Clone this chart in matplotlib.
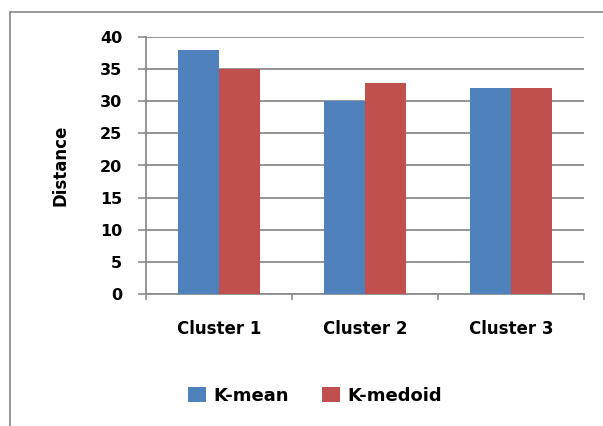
import matplotlib
matplotlib.use("Agg")
import matplotlib.pyplot as plt
import numpy as np
from matplotlib.lines import Line2D
from matplotlib.patches import Patch

categories = ["Cluster 1", "Cluster 2", "Cluster 3"]
kmean = [38, 30, 32]
kmedoid = [35, 32.8, 32]
series_names = ["K-mean", "K-medoid"]
yticks = [0, 5, 10, 15, 20, 25, 30, 35, 40]

blue = "#4F81BD"
red = "#C0504D"
grid_c = "#8C8C8C"

plt.rcParams['font.family'] = ['DejaVu Sans']
plt.rcParams['font.weight'] = 'bold'

fig = plt.figure(figsize=(6.03, 4.26), dpi=100)
ax = fig.add_axes([146/603, 1-294/426, 438/603, 257/426])

x = np.arange(len(categories))
w = 0.28
ax.bar(x - w/2, kmean, width=w, color=blue, zorder=3, label=series_names[0])
ax.bar(x + w/2, kmedoid, width=w, color=red, zorder=3, label=series_names[1])

ax.set_xlim(-0.5, 2.5)
ax.set_ylim(0, 40)
ax.set_yticks(yticks)
ax.set_yticklabels([str(v) for v in yticks], fontsize=11.5, fontweight='bold')
ax.yaxis.grid(True, color=grid_c, linewidth=1.3, zorder=0)
ax.set_axisbelow(True)

ax.set_xticks(x)
ax.set_xticklabels(categories, fontsize=12, fontweight='bold')
ax.tick_params(axis='x', which='major', length=0, pad=19)
ax.set_xticks([-0.5, 0.5, 1.5, 2.5], minor=True)
ax.tick_params(axis='x', which='minor', length=4, width=1.2, color=grid_c, direction='out')
ax.tick_params(axis='y', length=6, width=1.2, color=grid_c, direction='out', pad=11)

for s in ['top', 'right']:
    ax.spines[s].set_visible(False)
for s in ['left', 'bottom']:
    ax.spines[s].set_color(grid_c)
    ax.spines[s].set_linewidth(1.3)

ax.set_ylabel("Distance", fontsize=12, fontweight='bold')
ax.yaxis.set_label_coords(-0.175, 0.5)

handles = [Patch(facecolor=blue, label=series_names[0]),
           Patch(facecolor=red, label=series_names[1])]
fig.legend(handles=handles, loc='center', bbox_to_anchor=(315/603, 1-396/426),
           ncol=2, frameon=False, handlelength=1.0, handleheight=0.9,
           handletextpad=0.4, columnspacing=1.8, prop={'size': 13, 'weight': 'bold'})

# outer chart frame (left and top edges visible)
fig.add_artist(Line2D([9.5/603, 9.5/603], [0, 1-12/426], transform=fig.transFigure,
                      color="#888888", linewidth=1.2))
fig.add_artist(Line2D([9.5/603, 1], [1-12/426, 1-12/426], transform=fig.transFigure,
                      color="#888888", linewidth=1.2))

fig.savefig("out.png", dpi=100)
